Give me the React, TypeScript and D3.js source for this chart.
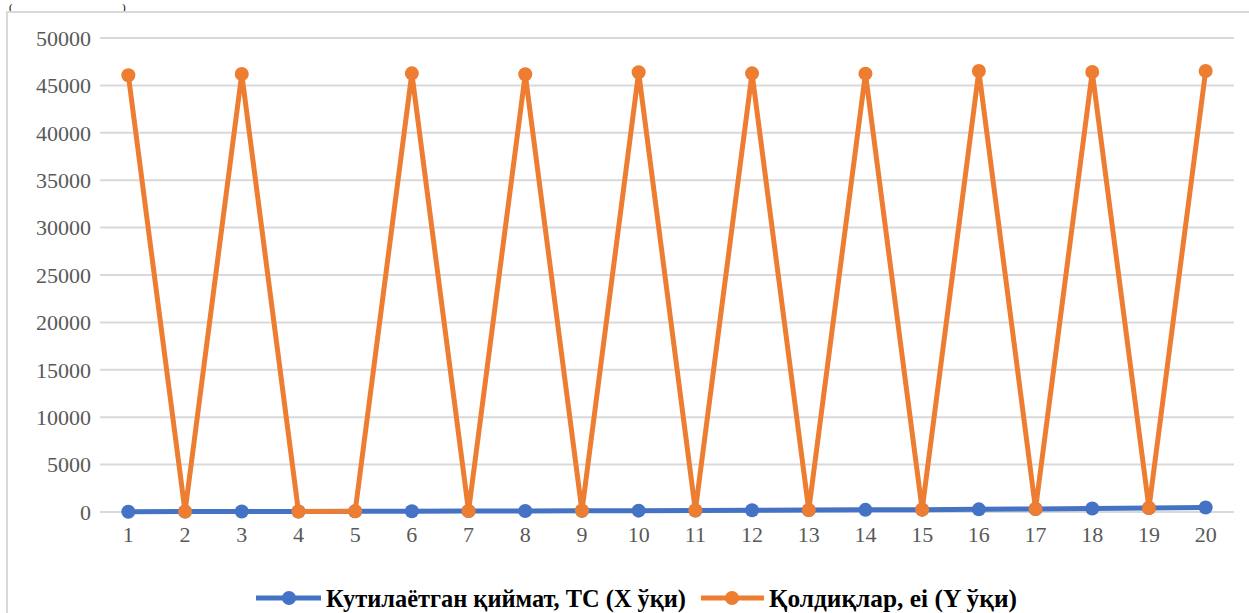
import React from "react";
import * as d3 from "d3";

const categories = ["1","2","3","4","5","6","7","8","9","10","11","12","13","14","15","16","17","18","19","20"];
const expectedValues = [30, 40, 50, 60, 70, 80, 95, 110, 125, 140, 160, 180, 200, 225, 250, 280, 320, 370, 420, 480];
const residualValues = [46070, 40, 46200, 60, 70, 46270, 95, 46170, 125, 46380, 160, 46270, 200, 46240, 250, 46520, 320, 46410, 420, 46520];
const yTicks = [0, 5000, 10000, 15000, 20000, 25000, 30000, 35000, 40000, 45000, 50000];
const seriesNames = ["Кутилаётган қиймат, ТС (X ўқи)", "Қолдиқлар, еі (Y ўқи)"];
const colors = ["#4472C4", "#ED7D31"];

const font = "'Times New Roman', 'Liberation Serif', Tinos, 'Noto Serif', 'DejaVu Serif', serif";

export default function App() {
  const W = 1249, H = 613;
  const left = 100, right = 1234, top = 38, bottom = 512;
  const x = d3.scaleBand<string>().domain(categories).range([left, right]);
  const y = d3.scaleLinear().domain([0, 50000]).range([bottom, top]);
  const cx = (c: string) => (x(c) as number) + x.bandwidth() / 2;
  const line = d3.line<number>().x((_, i) => cx(categories[i])).y((d) => y(d));
  const series = [expectedValues, residualValues];
  const ts = { fontFamily: font };
  return (
    <svg width={W} height={H} style={{ position: "absolute", left: 0, top: 0, background: "#fff", fontFamily: font }}>
      <text x={9} y={11} fontSize={11} fill="#000" style={ts}>(</text>
      <text x={122} y={11} fontSize={11} fill="#000" style={ts}>)</text>
      <rect x={7} y={12} width={1300} height={700} fill="#fff" stroke="#d9d9d9" strokeWidth={2} />
      {yTicks.map((t) => (
        <g key={t}>
          <line x1={left} x2={right} y1={y(t)} y2={y(t)} stroke="#d9d9d9" strokeWidth={2} />
          <text x={91} y={y(t)} dy="0.35em" textAnchor="end" fontSize={22} fill="#595959" style={ts}>{t}</text>
        </g>
      ))}
      {categories.map((c) => (
        <text key={c} x={cx(c)} y={542} textAnchor="middle" fontSize={22} fill="#595959" style={ts}>{c}</text>
      ))}
      {series.map((s, si) => (
        <g key={si}>
          <path d={line(s) as string} fill="none" stroke={colors[si]} strokeWidth={5} strokeLinejoin="round" />
          {s.map((v, i) => (
            <circle key={i} cx={cx(categories[i])} cy={y(v)} r={7} fill={colors[si]} />
          ))}
        </g>
      ))}
      <g>
        <line x1={256} x2={321} y1={598} y2={598} stroke={colors[0]} strokeWidth={5} />
        <circle cx={289} cy={598} r={7} fill={colors[0]} />
        <text x={326} y={598} dy="0.35em" fontSize={25} fontWeight="bold" fill="#000" style={ts}
          textLength={360} lengthAdjust="spacingAndGlyphs">{seriesNames[0]}</text>
        <line x1={701} x2={764} y1={598} y2={598} stroke={colors[1]} strokeWidth={5} />
        <circle cx={732} cy={598} r={7} fill={colors[1]} />
        <text x={769} y={598} dy="0.35em" fontSize={25} fontWeight="bold" fill="#000" style={ts}
          textLength={248} lengthAdjust="spacingAndGlyphs">{seriesNames[1]}</text>
      </g>
    </svg>
  );
}
